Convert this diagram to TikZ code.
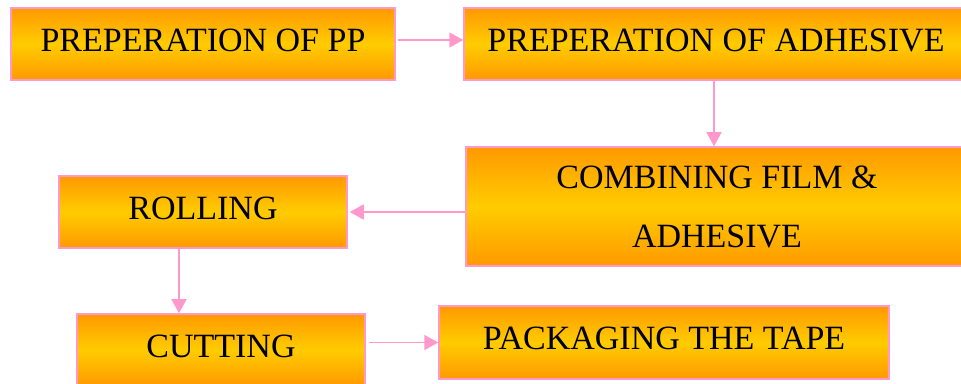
\documentclass[tikz,border=0pt]{standalone}
\usepackage{fontspec}
\setmainfont{Liberation Serif}
\usetikzlibrary{arrows.meta}
\definecolor{boxorange}{RGB}{255,153,0}
\definecolor{boxyellow}{RGB}{255,204,0}
\definecolor{boxpink}{RGB}{255,153,204}
\def\BoxHeight{72}

\begin{document}
\begin{tikzpicture}[x=1pt,y=1pt,
    stage/.style={draw=boxpink, line width=1.5pt, minimum height=\BoxHeight pt,
      inner sep=0pt, top color=boxorange, bottom color=boxorange,
      middle color=boxyellow, font=\fontsize{34}{59}\selectfont, align=center,
      text depth=8pt},
    flow/.style={draw=boxpink, line width=1.8pt,
      -{Triangle[length=14pt,width=15pt]}}]
  \useasboundingbox (0,0) rectangle (961,383);
  \clip (0,0) rectangle (961,383);
  % boxes
  \node[stage, minimum width=384pt] (pp) at (203,339) {PREPERATION OF PP};
  \node[stage, minimum width=504pt] (adh) at (716,339) {PREPERATION OF ADHESIVE};
  \node[stage, minimum width=502pt, minimum height=119pt, text depth={}] (comb)
    at (717,176.5) {COMBINING FILM \&\\ADHESIVE};
  \node[stage, minimum width=288pt] (roll) at (203,171) {ROLLING};
  \node[stage, minimum width=288pt] (cut) at (221,33) {CUTTING};
  \node[stage, minimum width=450pt, minimum height=73pt] (pack) at (664,40.5) {PACKAGING THE TAPE};
  % arrows
  \draw[flow, shorten <=2pt] ([yshift=4pt]pp.east) -- ([yshift=4pt]adh.west);
  \draw[flow] ([xshift=-2pt]adh.south) -- ([xshift=-2pt]adh.south |- comb.north);
  \draw[flow, shorten >=2pt] (comb.west |- roll) -- (roll.east);
  \draw[flow] ([xshift=-24pt]roll.south) -- ([xshift=-24pt]roll.south |- cut.north);
  \draw[flow, shorten <=3pt] (cut.east |- pack) -- (pack.west);
\end{tikzpicture}
\end{document}
